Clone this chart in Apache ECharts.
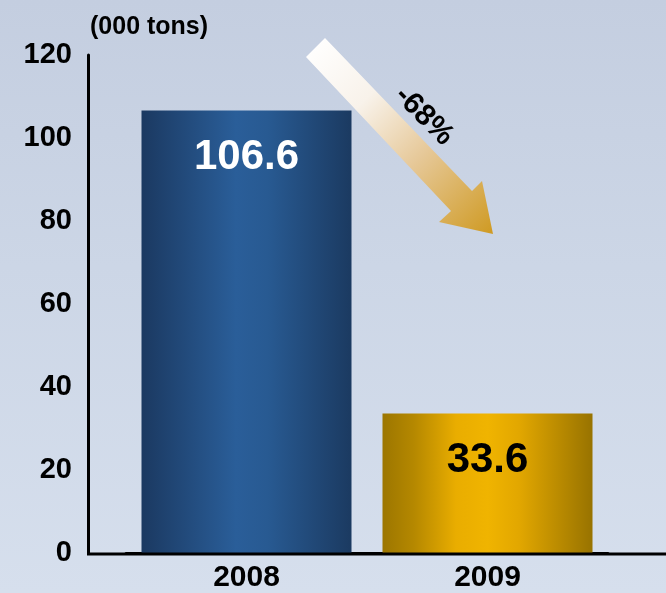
<!DOCTYPE html>
<html>
<head>
<meta charset="utf-8">
<script src="https://cdn.jsdelivr.net/npm/echarts@6/dist/echarts.min.js"></script>
<style>
html,body{margin:0;padding:0;}
#chart{width:666px;height:593px;background:linear-gradient(to bottom,#c4cee0 0%,#ccd6e6 45%,#d6dfed 100%);}
</style>
</head>
<body>
<div id="chart"></div>
<script>
const categories = ['2008', '2009'];
const values = [106.6, 33.6];
const yTicks = [0, 20, 40, 60, 80, 100, 120];
const unitLabel = '(000 tons)';
const changeLabel = '-68%';

const FONT = '"Liberation Sans", Arial, sans-serif';
const chart = echarts.init(document.getElementById('chart'), null, {renderer: 'canvas'});

const barStyles = [
  {color: new echarts.graphic.LinearGradient(0, 0, 1, 0, [
    {offset: 0, color: '#1b3961'},
    {offset: 0.45, color: '#2a5e99'},
    {offset: 0.6, color: '#285a92'},
    {offset: 1, color: '#1b3a61'}])},
  {color: new echarts.graphic.LinearGradient(0, 0, 1, 0, [
    {offset: 0, color: '#9c7600'},
    {offset: 0.15, color: '#b58800'},
    {offset: 0.35, color: '#e9ad00'},
    {offset: 0.5, color: '#f0b400'},
    {offset: 0.65, color: '#e2a700'},
    {offset: 1, color: '#987300'}])}
];
const labelColors = ['#ffffff', '#000000'];

chart.setOption({
  backgroundColor: 'transparent',
  animation: false,
  title: {
    text: unitLabel,
    left: 85, top: 10,
    textStyle: {fontFamily: FONT, fontWeight: 'bold', fontSize: 25, color: '#000'}
  },
  grid: {left: 126, right: 58, top: 55, bottom: 40},
  xAxis: {
    type: 'category',
    data: categories,
    axisLine: {show: true, lineStyle: {color: '#000', width: 3}},
    axisTick: {show: false},
    axisLabel: {fontFamily: FONT, fontWeight: 'bold', fontSize: 30, color: '#000', margin: 10}
  },
  yAxis: {
    type: 'value',
    min: yTicks[0], max: yTicks[yTicks.length - 1], interval: 20,
    offset: 38,
    axisLine: {show: true, lineStyle: {color: '#000', width: 3}},
    axisTick: {show: false},
    splitLine: {show: false},
    axisLabel: {fontFamily: FONT, fontWeight: 'bold', fontSize: 29, color: '#000', margin: 16,
      padding: [3, 0, 0, 0]}
  },
  series: [{
    type: 'bar',
    barWidth: 210,
    data: values.map((v, i) => ({
      value: v,
      itemStyle: barStyles[i],
      label: {color: labelColors[i]}
    })),
    label: {
      show: true,
      position: 'insideTop',
      distance: 26,
      fontFamily: FONT, fontWeight: 'bold', fontSize: 42,
      formatter: p => p.value.toFixed(1)
    },
    z: 2
  }],
  graphic: [
    {
      type: 'line', z: 10,
      shape: {x1: 87, y1: 554, x2: 666, y2: 554},
      style: {stroke: '#000', lineWidth: 3}
    },
    {
      type: 'polygon', z: 5,
      shape: {points: [[306, 57], [325, 38], [472, 191], [482, 181], [493, 234], [439, 222], [451, 211]]},
      style: {fill: new echarts.graphic.LinearGradient(306, 47, 493, 234, [
        {offset: 0, color: '#ffffff'},
        {offset: 0.3, color: '#f8f2ea'},
        {offset: 0.6, color: '#e6c898'},
        {offset: 1, color: '#cf9a22'}], true)}
    },
    {
      type: 'text', z: 6,
      x: 424, y: 116,
      rotation: -Math.PI / 4,
      style: {text: changeLabel, fontFamily: FONT, fontWeight: 'bold', fontSize: 30, fill: '#000',
        align: 'center', verticalAlign: 'middle'}
    }
  ]
});
</script>
</body>
</html>
